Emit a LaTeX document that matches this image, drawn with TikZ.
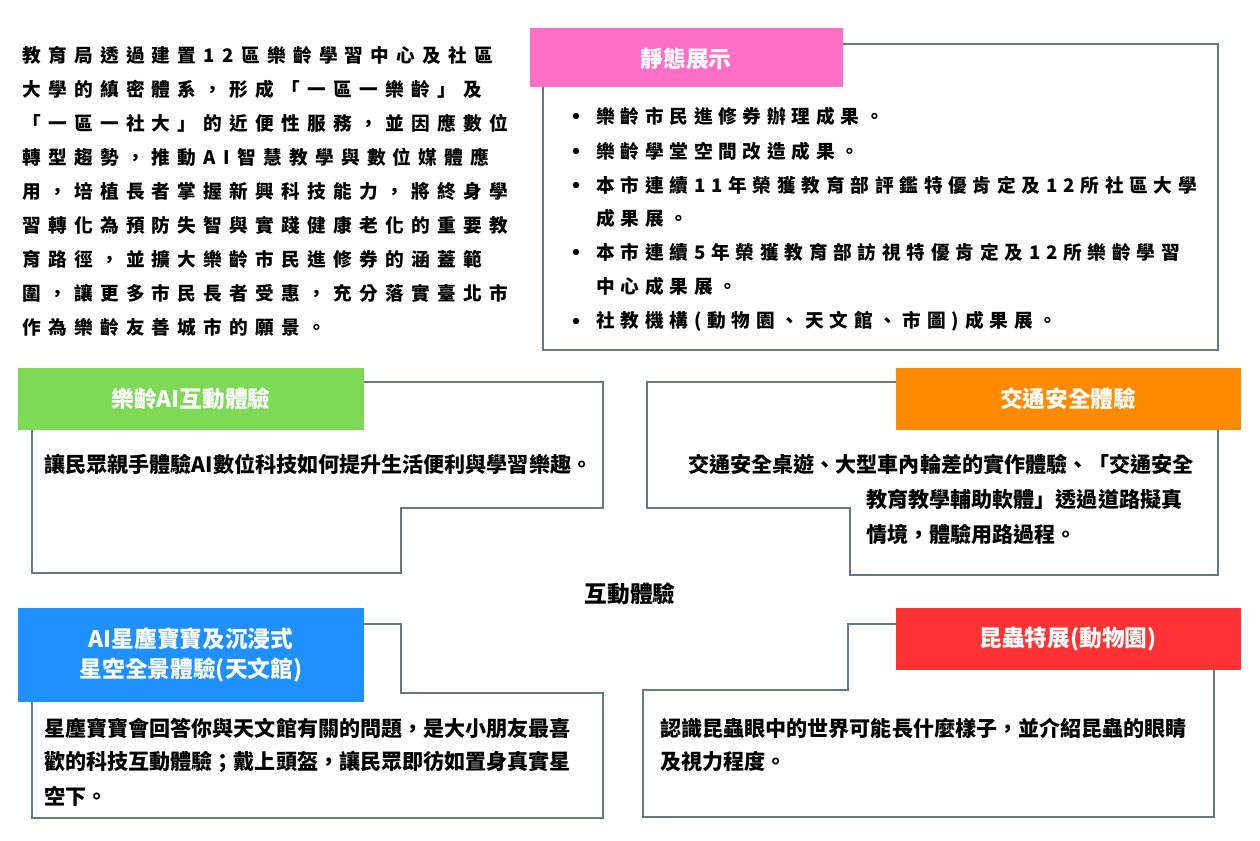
\documentclass[tikz,border=0pt]{standalone}
\usepackage{fontspec}
\setmainfont{Noto Sans CJK TC}
\newfontfamily\widefont[LetterSpace=39]{Noto Sans CJK TC}
\newfontfamily\midfont[LetterSpace=31]{Noto Sans CJK TC}
\definecolor{cpink}{HTML}{FF6EC7}
\definecolor{cgreen}{HTML}{7ED957}
\definecolor{corange}{HTML}{FF8A00}
\definecolor{cblue}{HTML}{1E90FF}
\definecolor{cred}{HTML}{FF3333}
\definecolor{cline}{HTML}{6B7780}
\begin{document}
\begin{tikzpicture}[x=0.75pt,y=-0.75pt,
  outl/.style={draw=cline,line width=1.3pt},
  lab/.style={text=white,font=\fontsize{17}{22}\selectfont\bfseries,align=center},
  par/.style={anchor=west,font=\fontsize{14}{16}\selectfont\bfseries\widefont,inner sep=0},
  bul/.style={anchor=west,font=\fontsize{14}{16}\selectfont\bfseries\midfont,inner sep=0},
  txt/.style={anchor=west,font=\fontsize{15.8}{18}\selectfont\bfseries,inner sep=0}]
\useasboundingbox (0,0) rectangle (1260,840);
\fill[white] (0,0) rectangle (1260,840);
% paragraph
\foreach \t [count=\i] in {教育局透過建置12區樂齡學習中心及社區,大學的縝密體系，形成「一區一樂齡」及,「一區一社大」的近便性服務，並因應數位,轉型趨勢，推動AI智慧教學與數位媒體應,用，培植長者掌握新興科技能力，將終身學,習轉化為預防失智與實踐健康老化的重要教,育路徑，並擴大樂齡市民進修券的涵蓋範,圍，讓更多市民長者受惠，充分落實臺北市,作為樂齡友善城市的願景。}
  \node[par] (p\i) at (22,{55+34.1*(\i-1)}) {\t};
% static
\draw[outl] (843,44) -- (1218,44) -- (1218,350) -- (543,350) -- (543,87);
\fill[cpink] (530,28) rectangle (843,87);
\node[lab] (l1) at (686,59) {靜態展示};
\foreach \y/\t [count=\i] in {116/樂齡市民進修券辦理成果。,151/樂齡學堂空間改造成果。,185/本市連續11年榮獲教育部評鑑特優肯定及12所社區大學,252/本市連續5年榮獲教育部訪視特優肯定及12所樂齡學習,321/社教機構(動物園、天文館、市圖)成果展。}{
  \fill (576,\y) circle (3.2);
  \node[bul] (b\i) at (596,\y) {\t};}
\node[bul] (b3b) at (596,218) {成果展。};
\node[bul] (b4b) at (596,286) {中心成果展。};
% green
\draw[outl] (364,382) -- (603,382) -- (603,508) -- (401,508) -- (401,573) -- (32,573) -- (32,430);
\fill[cgreen] (18,368) rectangle (364,430);
\node[lab] (l2) at (191,399) {樂齡AI互動體驗};
\node[txt] (g1) at (44,464) {讓民眾親手體驗AI數位科技如何提升生活便利與學習樂趣。};
% orange
\draw[outl] (896,382) -- (647,382) -- (647,508) -- (850,508) -- (850,575) -- (1218,575) -- (1218,430);
\fill[corange] (896,368) rectangle (1241,430);
\node[lab] (l3) at (1068,399) {交通安全體驗};
\node[txt] (o1) at (688,464) {交通安全桌遊、大型車內輪差的實作體驗、「交通安全};
\node[txt] (o2) at (866,499) {教育教學輔助軟體」透過道路擬真};
\node[txt] (o3) at (866,534) {情境，體驗用路過程。};
% center
\node[font=\fontsize{17}{22}\selectfont\bfseries] (c) at (630,594) {互動體驗};
% blue
\draw[outl] (364,624) -- (401,624) -- (401,693) -- (603,693) -- (603,818) -- (32,818) -- (32,702);
\fill[cblue] (18,608) rectangle (364,702);
\node[lab] (l4) at (191,655) {AI星塵寶寶及沉浸式\\星空全景體驗(天文館)};
\node[txt] (u1) at (44,728) {星塵寶寶會回答你與天文館有關的問題，是大小朋友最喜};
\node[txt] (u2) at (44,762) {歡的科技互動體驗；戴上頭盔，讓民眾即彷如置身真實星};
\node[txt] (u3) at (44,796) {空下。};
% red
\draw[outl] (896,624) -- (848,624) -- (848,690) -- (643,690) -- (643,817) -- (1214,817) -- (1214,670);
\fill[cred] (896,608) rectangle (1241,670);
\node[lab] (l5) at (1068,639) {昆蟲特展(動物園)};
\node[txt] (r1) at (660,728) {認識昆蟲眼中的世界可能長什麼樣子，並介紹昆蟲的眼睛};
\node[txt] (r2) at (660,762) {及視力程度。};
\end{tikzpicture}
\end{document}
